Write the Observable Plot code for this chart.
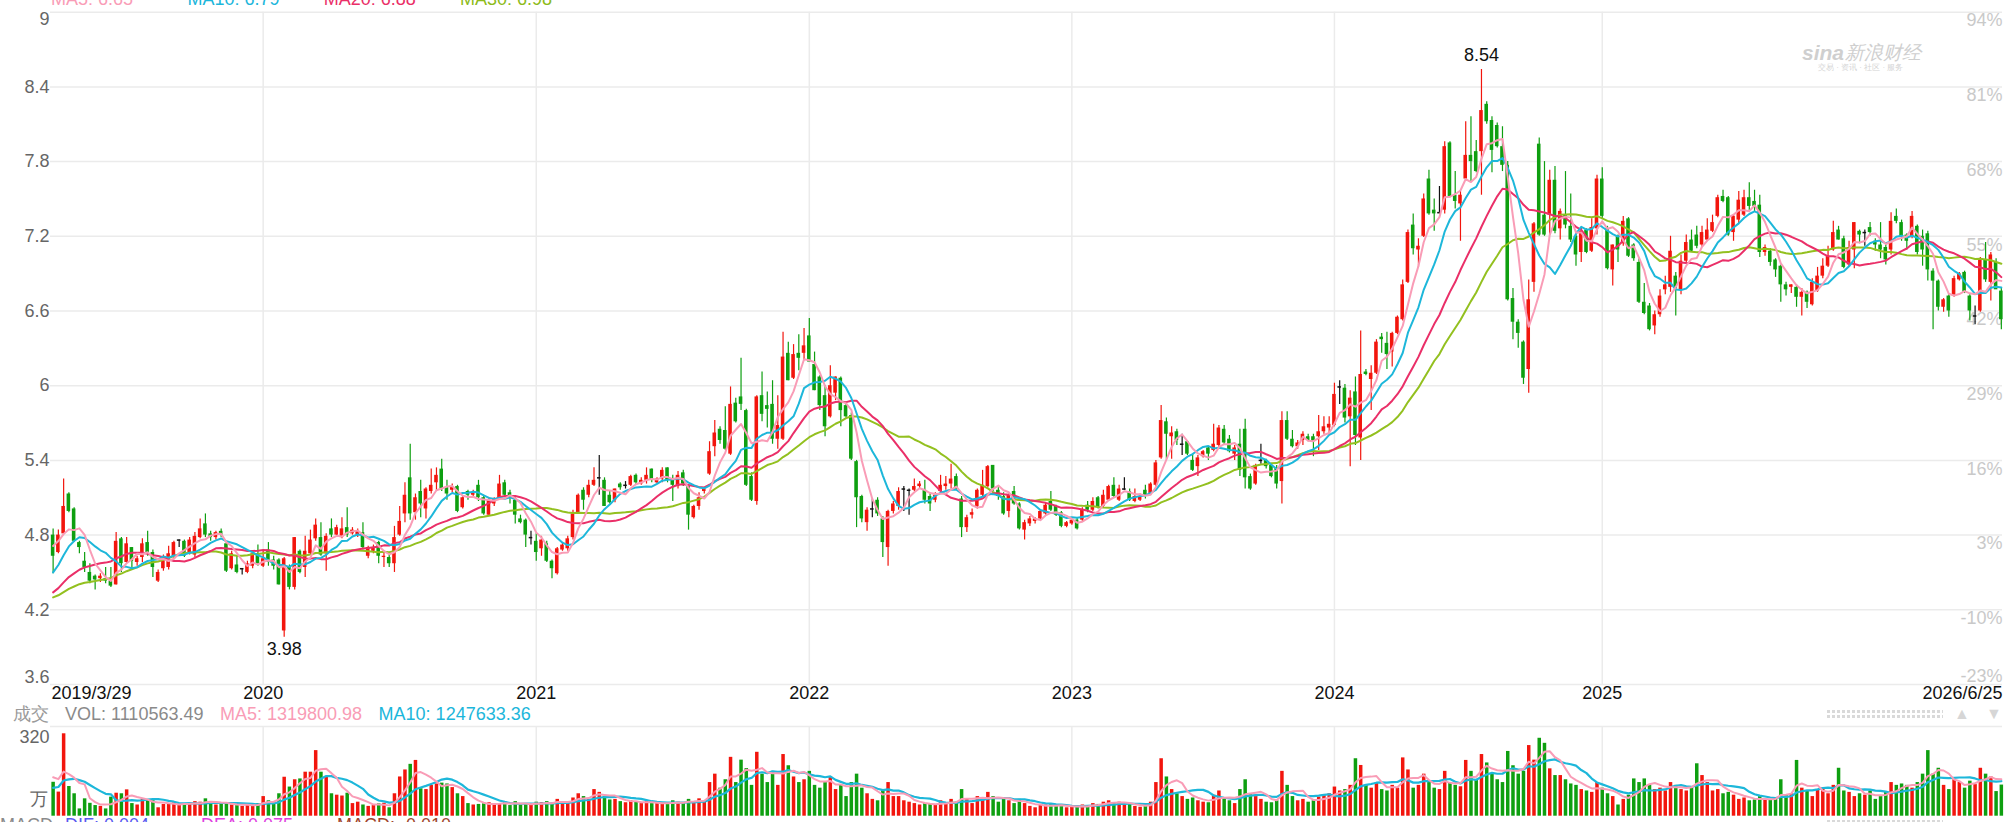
<!DOCTYPE html>
<html>
<head>
<meta charset="utf-8">
<script src="https://cdn.jsdelivr.net/npm/d3@7"></script>
<script src="https://cdn.jsdelivr.net/npm/@observablehq/plot@0.6"></script>
<style>
  html, body { margin: 0; padding: 0; background: #fff; overflow: hidden; }
  #chart { position: relative; width: 2013px; height: 822px; font-family: "Liberation Sans", Arial, Helvetica, sans-serif; }
  #chart svg { position: absolute; left: 0; }
  .lg { position: absolute; white-space: nowrap; font-size: 18px; line-height: 18px; }
  .dots { position: absolute; height: 3px; background: repeating-linear-gradient(90deg, #d9d9d9 0 3px, transparent 3px 5px); }
</style>
</head>
<body>
<div id="chart"></div>
<script>
// Weekly candles, 2019/3/29 – 2026/6/25 (prices in CNY, volume in 万 shares)
const open = [
4.80,4.66,4.81,5.13,5.01,4.74,4.59,4.50,4.47,4.45,
4.45,4.43,4.40,4.77,4.58,4.70,4.58,4.62,4.74,4.66,
4.43,4.53,4.54,4.63,4.76,4.75,4.66,4.64,4.78,4.89,
4.81,4.78,4.83,4.73,4.53,4.56,4.53,4.50,4.55,4.65,
4.55,4.68,4.60,4.60,4.03,4.54,4.38,4.67,4.54,4.65,
4.77,4.78,4.65,4.85,4.80,4.78,4.86,4.81,4.80,4.82,
4.63,4.67,4.74,4.62,4.62,4.57,4.80,4.97,5.26,4.98,
5.15,5.01,5.15,5.22,5.33,5.18,5.16,5.19,5.02,5.15,
5.12,5.20,5.10,4.96,5.05,5.09,5.22,5.14,5.08,4.93,
4.92,4.78,4.75,4.69,4.73,4.59,4.49,4.68,4.69,4.78,
4.98,5.16,5.12,5.20,5.26,5.24,5.12,5.08,5.21,5.20,
5.20,5.28,5.21,5.24,5.33,5.22,5.25,5.34,5.25,5.19,
5.30,5.19,4.94,5.03,5.15,5.29,5.51,5.65,5.64,5.45,
5.86,5.91,5.80,5.27,5.07,5.92,5.84,5.85,5.57,5.57,
6.26,6.06,6.26,6.26,6.40,6.17,6.07,5.92,5.75,5.94,
6.06,5.84,5.76,5.39,5.11,4.90,5.01,5.08,4.93,4.70,
4.99,5.03,5.17,5.16,5.16,5.19,5.16,5.11,5.08,5.15,
5.19,5.21,5.27,5.09,4.86,4.96,5.03,5.12,5.19,5.36,
5.16,5.11,4.99,5.15,5.05,4.84,4.89,4.91,4.93,4.97,
5.07,5.03,4.98,4.87,4.89,4.92,4.92,5.04,5.00,5.10,
5.03,5.08,5.20,5.08,5.17,5.15,5.07,5.08,5.16,5.13,
5.20,5.42,5.71,5.59,5.63,5.53,5.55,5.40,5.35,5.43,
5.50,5.48,5.52,5.65,5.57,5.45,5.53,5.65,5.27,5.21,
5.40,5.40,5.36,5.34,5.23,5.72,5.57,5.51,5.56,5.59,
5.59,5.59,5.63,5.66,5.68,5.99,5.98,5.75,5.95,5.58,
6.11,6.05,6.10,6.39,6.34,6.27,6.42,6.53,6.83,7.29,
7.09,7.20,7.66,7.41,7.39,7.41,7.95,7.53,7.46,7.66,
7.85,7.88,7.88,8.26,8.13,8.09,7.92,7.77,6.70,6.51,
6.35,6.13,6.83,7.94,7.37,7.37,7.65,7.26,7.37,7.28,
7.20,7.07,7.25,7.08,7.26,7.66,7.26,6.93,7.20,7.14,
7.34,7.13,6.99,6.67,6.64,6.48,6.57,6.77,6.79,6.88,
6.77,7.00,7.17,7.21,7.13,7.17,7.24,7.36,7.52,7.51,
7.23,7.33,7.37,7.51,7.48,7.45,7.07,7.08,7.01,6.96,
6.81,6.79,6.79,6.71,6.75,6.65,6.76,6.88,6.96,7.09,
7.25,7.18,6.97,7.09,7.24,7.23,7.27,7.16,7.13,7.11,
7.09,7.36,7.31,7.21,7.19,7.28,7.20,7.22,6.92,6.84,
6.63,6.72,6.72,6.85,6.91,6.72,6.56,6.60,7.01,6.83,
6.99,6.76];

const high = [
4.85,4.84,5.25,5.14,5.02,4.75,4.66,4.57,4.48,4.49,
4.54,4.54,4.82,4.78,4.78,4.70,4.63,4.77,4.83,4.68,
4.52,4.64,4.71,4.75,4.76,4.76,4.78,4.82,4.93,4.97,
4.83,4.83,4.85,4.74,4.67,4.63,4.53,4.59,4.67,4.72,
4.67,4.74,4.63,4.61,4.62,4.56,4.78,4.68,4.79,4.84,
4.93,4.90,4.81,4.93,4.88,4.94,5.02,4.86,4.85,4.90,
4.71,4.72,4.75,4.66,4.64,4.87,5.03,5.22,5.53,5.13,
5.24,5.18,5.33,5.34,5.41,5.24,5.21,5.20,5.11,5.16,
5.16,5.24,5.12,5.10,5.10,5.28,5.24,5.16,5.10,4.96,
4.93,4.83,4.81,4.79,4.75,4.60,4.70,4.74,4.79,5.00,
5.13,5.18,5.24,5.34,5.44,5.26,5.15,5.17,5.22,5.23,
5.28,5.29,5.26,5.34,5.33,5.26,5.34,5.34,5.28,5.31,
5.32,5.20,5.04,5.14,5.18,5.55,5.72,5.67,5.83,5.99,
5.90,6.22,5.81,5.30,5.92,6.11,5.95,6.04,5.92,6.43,
6.35,6.33,6.41,6.46,6.54,6.27,6.08,6.00,6.16,6.07,
6.07,5.85,5.78,5.40,5.12,5.02,5.09,5.10,4.95,5.00,
5.07,5.18,5.19,5.17,5.25,5.23,5.24,5.14,5.14,5.28,
5.27,5.37,5.29,5.11,4.96,5.01,5.17,5.32,5.36,5.36,
5.18,5.14,5.13,5.19,5.06,4.92,4.95,4.94,5.00,5.06,
5.15,5.04,4.99,4.91,4.94,4.94,5.02,5.07,5.10,5.11,
5.16,5.20,5.26,5.20,5.26,5.17,5.17,5.13,5.20,5.22,
5.40,5.84,5.74,5.67,5.65,5.61,5.56,5.45,5.44,5.48,
5.51,5.69,5.68,5.68,5.60,5.52,5.65,5.73,5.29,5.37,
5.53,5.41,5.37,5.36,5.79,5.79,5.64,5.56,5.63,5.61,
5.61,5.76,5.75,5.75,6.02,6.04,6.01,5.96,6.07,6.44,
6.13,6.16,6.37,6.42,6.43,6.43,6.56,6.85,7.25,7.38,
7.18,7.54,7.73,7.50,7.60,7.96,7.96,7.72,7.56,8.12,
8.16,7.97,8.54,8.28,8.16,8.11,8.08,7.80,6.78,6.53,
6.36,6.85,7.31,7.99,7.80,7.73,7.76,7.42,7.72,7.54,
7.24,7.27,7.26,7.34,7.69,7.75,7.28,7.13,7.21,7.36,
7.35,7.14,7.02,6.82,6.66,6.60,6.77,6.88,7.20,6.91,
7.05,7.21,7.25,7.28,7.28,7.34,7.37,7.53,7.57,7.52,
7.37,7.56,7.57,7.63,7.57,7.53,7.13,7.10,7.02,6.97,
6.83,6.81,6.81,6.78,6.76,6.86,6.95,7.02,7.12,7.32,
7.28,7.20,7.16,7.31,7.25,7.25,7.31,7.18,7.31,7.13,
7.39,7.42,7.33,7.22,7.40,7.29,7.25,7.24,6.94,6.85,
6.70,6.73,6.88,6.91,6.92,6.73,6.64,7.03,7.15,7.07,
7.02,6.78];

const low = [
4.49,4.65,4.81,4.98,4.74,4.65,4.50,4.41,4.36,4.42,
4.41,4.38,4.40,4.50,4.57,4.52,4.55,4.58,4.63,4.46,
4.42,4.51,4.52,4.61,4.70,4.62,4.64,4.62,4.77,4.78,
4.75,4.76,4.78,4.50,4.52,4.49,4.48,4.49,4.53,4.55,
4.54,4.55,4.52,4.40,3.98,4.36,4.36,4.49,4.46,4.64,
4.75,4.63,4.51,4.78,4.78,4.77,4.78,4.80,4.78,4.68,
4.61,4.65,4.57,4.54,4.54,4.50,4.79,4.90,4.92,4.92,
4.94,4.93,5.13,5.15,5.15,5.08,5.14,4.98,5.01,5.08,
5.10,5.07,4.96,4.95,5.03,5.08,5.10,5.05,4.89,4.89,
4.70,4.72,4.59,4.63,4.58,4.45,4.48,4.67,4.67,4.76,
4.97,5.00,5.10,5.19,5.12,5.03,5.05,5.06,5.16,5.17,
5.19,5.20,5.20,5.21,5.22,5.21,5.22,5.22,5.07,5.17,
5.19,4.84,4.93,5.00,5.13,5.28,5.43,5.53,5.48,5.44,
5.70,5.80,5.19,5.07,5.04,5.71,5.66,5.53,5.49,5.56,
6.04,6.05,6.12,6.20,6.19,5.96,5.80,5.59,5.74,5.88,
5.67,5.74,5.40,4.86,4.90,4.83,4.94,4.95,4.62,4.55,
4.97,5.00,4.99,4.96,5.15,5.17,5.05,4.99,5.06,5.14,
5.16,5.17,5.16,4.78,4.82,4.93,5.01,5.11,5.18,5.15,
5.08,4.96,4.94,5.04,4.84,4.76,4.87,4.89,4.92,4.96,
4.99,4.95,4.86,4.86,4.88,4.84,4.91,4.98,4.99,5.01,
5.02,5.07,5.10,5.07,5.16,5.07,5.06,5.07,5.09,5.12,
5.19,5.41,5.41,5.41,5.52,5.44,5.44,5.31,5.27,5.42,
5.40,5.47,5.50,5.52,5.46,5.40,5.27,5.17,5.16,5.20,
5.37,5.33,5.26,5.17,5.05,5.56,5.50,5.49,5.52,5.55,
5.43,5.48,5.61,5.60,5.67,5.85,5.70,5.35,5.52,5.40,
6.08,5.80,6.09,6.26,6.13,6.15,6.41,6.52,6.82,7.05,
6.95,7.19,7.37,7.24,7.38,7.38,7.51,7.42,7.16,7.65,
7.64,7.71,7.53,8.10,7.71,7.91,7.72,6.68,6.37,6.30,
6.01,5.94,6.75,7.20,7.20,7.21,7.22,7.17,7.26,7.15,
6.96,6.99,7.06,7.07,7.21,7.34,6.93,6.80,6.99,7.12,
7.03,7.00,6.66,6.57,6.44,6.41,6.55,6.73,6.75,6.56,
6.73,6.98,7.07,7.10,7.11,7.16,7.23,7.35,7.47,7.20,
7.16,7.30,7.36,7.40,7.40,7.03,7.04,6.96,6.87,6.67,
6.72,6.74,6.63,6.56,6.62,6.64,6.75,6.86,6.95,7.08,
7.17,6.94,6.95,6.94,7.14,7.12,7.20,7.08,7.02,6.97,
7.05,7.30,7.16,7.09,7.18,7.05,6.96,6.84,6.45,6.60,
6.59,6.55,6.71,6.84,6.74,6.52,6.49,6.59,6.83,6.68,
6.78,6.45];

const close = [
4.63,4.80,5.03,4.99,4.75,4.70,4.54,4.43,4.44,4.47,
4.43,4.39,4.75,4.57,4.73,4.59,4.61,4.73,4.65,4.54,
4.50,4.62,4.65,4.74,4.76,4.63,4.76,4.79,4.85,4.80,
4.78,4.82,4.80,4.51,4.65,4.50,4.53,4.57,4.65,4.57,
4.61,4.58,4.55,4.40,4.61,4.38,4.78,4.50,4.67,4.76,
4.88,4.64,4.79,4.80,4.86,4.85,4.80,4.84,4.83,4.70,
4.70,4.70,4.63,4.63,4.57,4.78,4.91,5.12,4.97,5.10,
5.05,5.17,5.20,5.28,5.17,5.13,5.19,4.99,5.10,5.12,
5.14,5.10,4.97,5.08,5.09,5.21,5.12,5.10,4.96,4.90,
4.80,4.78,4.66,4.76,4.59,4.53,4.69,4.72,4.77,4.97,
5.12,5.08,5.20,5.24,5.26,5.03,5.06,5.17,5.18,5.20,
5.27,5.22,5.24,5.28,5.24,5.25,5.32,5.24,5.20,5.28,
5.21,4.96,5.03,5.10,5.17,5.47,5.62,5.56,5.49,5.85,
5.71,5.85,5.20,5.08,5.91,5.77,5.81,5.57,5.68,6.23,
6.04,6.25,6.22,6.32,6.19,5.96,5.84,5.67,6.00,6.07,
5.80,5.75,5.41,5.10,4.93,5.00,5.01,4.97,4.74,4.99,
5.05,5.15,5.17,5.16,5.19,5.21,5.08,5.05,5.12,5.20,
5.21,5.25,5.17,4.86,4.94,4.98,5.16,5.20,5.35,5.17,
5.11,4.97,5.12,5.05,4.85,4.90,4.93,4.93,4.99,5.04,
5.00,4.96,4.87,4.90,4.92,4.85,5.00,5.00,5.07,5.02,
5.12,5.19,5.11,5.17,5.17,5.08,5.11,5.11,5.11,5.21,
5.38,5.72,5.61,5.62,5.56,5.53,5.45,5.32,5.42,5.47,
5.45,5.53,5.66,5.54,5.47,5.50,5.32,5.26,5.17,5.36,
5.40,5.35,5.27,5.21,5.72,5.57,5.51,5.54,5.61,5.56,
5.55,5.63,5.67,5.69,5.93,5.99,5.74,5.90,5.60,6.09,
6.09,6.10,6.35,6.37,6.25,6.42,6.55,6.81,7.23,7.10,
7.12,7.50,7.38,7.38,7.39,7.92,7.52,7.48,7.53,7.85,
7.80,7.72,8.21,8.12,7.89,7.92,7.77,6.69,6.51,6.42,
6.06,6.69,7.30,7.21,7.21,7.65,7.24,7.40,7.29,7.17,
7.05,7.24,7.07,7.27,7.66,7.36,6.94,7.13,7.09,7.32,
7.04,7.02,6.67,6.58,6.45,6.57,6.72,6.81,7.08,6.78,
7.00,7.15,7.08,7.12,7.23,7.25,7.31,7.51,7.48,7.21,
7.36,7.49,7.51,7.44,7.44,7.07,7.11,6.99,6.93,6.81,
6.77,6.81,6.71,6.75,6.67,6.83,6.88,6.96,7.04,7.23,
7.17,6.95,7.11,7.31,7.21,7.23,7.23,7.13,7.09,7.01,
7.32,7.32,7.19,7.16,7.36,7.07,7.09,6.93,6.84,6.63,
6.69,6.60,6.86,6.90,6.75,6.60,6.56,7.01,6.85,7.05,
6.77,6.53];

const volume = [
121,86,294,106,80,26,62,46,38,35,
26,68,82,80,94,45,40,60,58,55,
30,42,45,48,42,40,45,52,50,62,
50,40,42,48,40,38,35,42,40,45,
70,55,48,80,139,104,130,133,157,157,
234,157,140,80,75,72,82,45,50,40,
35,38,44,46,30,80,140,165,185,199,
98,95,110,115,118,115,102,80,70,45,
40,42,44,48,45,45,50,38,52,40,
45,40,50,48,52,42,60,52,48,65,
80,70,60,95,85,70,58,60,52,48,
55,50,45,52,45,48,42,46,55,50,
48,60,50,62,55,120,150,100,130,210,
120,200,170,110,228,150,120,160,110,220,
180,140,120,130,160,110,100,120,140,95,
110,70,120,150,100,80,60,55,90,120,
70,70,55,50,45,40,45,42,40,55,
45,60,50,95,60,45,70,60,85,70,
50,60,55,45,60,45,35,30,38,40,
42,35,40,30,32,35,40,38,45,42,
50,55,48,50,40,42,35,32,38,50,
120,205,140,95,80,70,60,65,55,50,
48,75,90,65,55,45,95,130,80,70,
60,50,48,55,160,110,70,55,60,50,
55,68,75,80,104,90,95,110,205,181,
110,100,120,95,90,110,100,208,165,100,
110,150,120,100,95,160,120,110,105,199,
160,130,220,190,150,130,120,231,180,150,
160,252,200,278,260,169,145,145,130,115,
110,95,90,85,120,100,80,70,40,60,
75,133,120,133,110,95,100,90,120,110,
95,90,100,187,145,120,90,95,80,85,
75,60,65,55,58,70,60,58,60,130,
75,80,199,100,90,70,95,100,80,110,
171,90,85,70,80,75,90,60,70,85,
120,110,115,110,100,120,150,234,150,171,
110,95,130,120,100,125,112.73287,171,150,140,
87.844141,111.056349];

// Weeks before the first candle, used only to seed the moving averages
const closeBefore = [4.30,4.25,4.22,4.18,4.15,4.20,4.24,4.22,4.20,4.24,
  4.12,4.10,4.14,4.16,4.12,4.15,4.20,4.22,4.26,4.33,
  4.20,4.25,4.28,4.31,4.40,4.60,4.75,4.80,4.78];
const volumeBefore = [55,60,65,62,73,120,160,150,144];

// Axis ticks and labels
const priceTicks = [3.6, 4.2, 4.8, 5.4, 6, 6.6, 7.2, 7.8, 8.4, 9];
const dateTickIndex = [0, 40, 92, 144, 194, 244, 295, 371];
const dateTickLabel = ["2019/3/29", "2020", "2021", "2022", "2023", "2024", "2025", "2026/6/25"];
const volumeMax = 320;
const maLegend = ["MA5: 6.65", "MA10: 6.79", "MA20: 6.88", "MA30: 6.98"];
const macdLegend = ["MACD", "DIF: 0.004", "DEA: 0.075", "MACD: -0.010"];

const FONT = '"Liberation Sans", Arial, Helvetica, sans-serif';
const RED = "#f2150d", GREEN = "#0e9f10", DOJI = "#111111", GRID = "#ebebeb";
const C5 = "#f99cb6", C10 = "#1db7da", C20 = "#ea2f68", C30 = "#93c01f";

const N = close.length;
const bars = d3.range(N).map(i => ({i, o: open[i], h: high[i], l: low[i], c: close[i], v: volume[i]}));
const candleColor = d => d.c > d.o ? RED : d.c < d.o ? GREEN : DOJI;
const volColor = d => d.c >= d.o ? RED : GREEN;

function movingAverage(series, before, n) {
  const all = before.concat(series), k = before.length;
  return series.map((_, i) => ({i, v: d3.mean(all.slice(k + i - n + 1, k + i + 1))}));
}
const ma5 = movingAverage(close, closeBefore, 5);
const ma10 = movingAverage(close, closeBefore, 10);
const ma20 = movingAverage(close, closeBefore, 20);
const ma30 = movingAverage(close, closeBefore, 30);
const vma5 = movingAverage(volume, volumeBefore, 5);
const vma10 = movingAverage(volume, volumeBefore, 10);

const dateTicks = dateTickIndex.map((i, k) => ({i, label: dateTickLabel[k]}));
const yearLines = dateTickIndex.slice(1, -1);
const pct = t => Math.floor((t / close[0] - 1) * 100 + 1e-9) + "%";
const fmtPrice = t => String(+t.toFixed(1));

const xOpt = {type: "linear", domain: [-0.5, N - 1 + 0.22], axis: null};
const common = {width: 2013, marginLeft: 50, marginRight: 11, x: xOpt,
  style: {background: "transparent", fontFamily: FONT, fontSize: "18px", overflow: "visible"}};

const hi = d3.greatest(bars, d => d.h);
const lo = d3.least(bars, d => d.l);

const pricePlot = Plot.plot({
  ...common,
  height: 722, marginTop: 11.7, marginBottom: 38,
  y: {domain: [3.6, 9], axis: null},
  marks: [
    Plot.ruleY(priceTicks, {stroke: GRID, strokeWidth: 1.5}),
    Plot.ruleX(yearLines, {stroke: GRID, strokeWidth: 1.5}),
    // left price labels (extremes nudged inside the frame)
    Plot.text(priceTicks.filter(t => t > 3.6 && t < 9), {y: d => d, frameAnchor: "left", textAnchor: "end", dx: -1, text: fmtPrice, fill: "#666"}),
    Plot.text([9], {y: d => d, frameAnchor: "left", textAnchor: "end", dx: -1, dy: 7, text: fmtPrice, fill: "#666"}),
    Plot.text([3.6], {y: d => d, frameAnchor: "left", textAnchor: "end", dx: -1, dy: -7, text: fmtPrice, fill: "#666"}),
    // right percentage labels relative to the first close
    Plot.text(priceTicks.filter(t => t > 3.6), {y: d => d, frameAnchor: "right", textAnchor: "end", dy: 8.5, text: pct, fill: "#c9c9c9"}),
    Plot.text([3.6], {y: d => d, frameAnchor: "right", textAnchor: "end", dy: -8.5, text: pct, fill: "#c9c9c9"}),
    // date labels
    Plot.text(dateTicks.slice(1, -1), {x: "i", frameAnchor: "bottom", dy: 14, text: "label", fill: "#111"}),
    Plot.text(dateTicks.slice(0, 1), {x: "i", frameAnchor: "bottom", dy: 14, dx: -1.6, textAnchor: "start", text: "label", fill: "#111"}),
    Plot.text(dateTicks.slice(-1), {x: "i", frameAnchor: "bottom", dy: 14, dx: 1.2, textAnchor: "end", text: "label", fill: "#111"}),
    // candles
    Plot.ruleX(bars, {x: "i", y1: "l", y2: "h", stroke: candleColor, strokeWidth: 1.2}),
    Plot.rect(bars.filter(d => d.o !== d.c), {x1: d => d.i - 0.34, x2: d => d.i + 0.34, y1: "o", y2: "c", fill: candleColor}),
    Plot.ruleY(bars.filter(d => d.o === d.c), {x1: d => d.i - 0.34, x2: d => d.i + 0.34, y: "c", stroke: DOJI, strokeWidth: 1.5}),
    // moving averages
    Plot.line(ma30, {x: "i", y: "v", stroke: C30, strokeWidth: 2}),
    Plot.line(ma20, {x: "i", y: "v", stroke: C20, strokeWidth: 2}),
    Plot.line(ma10, {x: "i", y: "v", stroke: C10, strokeWidth: 2}),
    Plot.line(ma5, {x: "i", y: "v", stroke: C5, strokeWidth: 2}),
    // extremes
    Plot.text([hi], {x: "i", y: "h", text: d => d.h.toFixed(2), dy: -14, fill: "#111"}),
    Plot.text([lo], {x: "i", y: "l", text: d => d.l.toFixed(2), dy: 12, fill: "#111"})
  ]
});
pricePlot.style.top = "0px";

const volumePlot = Plot.plot({
  ...common,
  height: 117, marginTop: 21, marginBottom: 6.3,
  y: {domain: [0, volumeMax], axis: null},
  marks: [
    Plot.ruleY([volumeMax], {stroke: GRID, strokeWidth: 1.5}),
    Plot.ruleX(yearLines, {stroke: GRID, strokeWidth: 1.5}),
    Plot.ruleX(bars, {x: "i", y1: 0, y2: "v", stroke: volColor, strokeWidth: 3.5}),
    Plot.line(vma10, {x: "i", y: "v", stroke: C10, strokeWidth: 2.2}),
    Plot.line(vma5, {x: "i", y: "v", stroke: C5, strokeWidth: 2}),
    Plot.text([volumeMax], {y: d => d, frameAnchor: "left", textAnchor: "end", dx: -1, dy: 11, text: d => String(d), fill: "#666"}),
    Plot.text(["万"], {frameAnchor: "bottom-left", textAnchor: "end", dx: -3, dy: -11.5, text: d => d, fill: "#666"})
  ]
});
volumePlot.style.top = "705px";

const chart = document.getElementById("chart");
chart.append(pricePlot, volumePlot);

function label(text, left, top, color, extra) {
  const el = document.createElement("div");
  el.className = "lg";
  el.textContent = text;
  el.style.left = left + "px";
  el.style.top = top + "px";
  el.style.color = color;
  if (extra) Object.assign(el.style, extra);
  chart.append(el);
  return el;
}

// price moving-average legend (partly above the visible area)
[[51, C5], [187.5, "#1cb6db"], [323.7, C20], [460, "#8dbb1a"]].forEach(([x, c], k) => label(maLegend[k], x, -10.2, c));

// volume legend, computed from the last week
const last = N - 1;
const fmtVol = v => (v * 10000).toFixed(2);
label("成交", 13, 704.5, "#9a9a9a");
label("VOL: " + fmtVol(volume[last]), 65, 704.5, "#8a8a8a");
label("MA5: " + fmtVol(vma5[last].v), 220, 704.5, C5);
label("MA10: " + fmtVol(vma10[last].v), 378.6, 704.5, "#1cb6db");

// MACD legend along the bottom edge
label(macdLegend[0], 0, 816, "#8a8a8a");
label(macdLegend[1], 65, 816, "#5a5af0");
label(macdLegend[2], 201, 816, "#e040e0");
label(macdLegend[3], 337, 816, "#a0462e");

// watermark
label("sina", 1802, 42, "#cfcfcf", {fontWeight: "bold", fontStyle: "italic", fontSize: "21px", lineHeight: "21px"});
label("新浪财经", 1845, 43, "#cfcfcf", {fontSize: "19px", lineHeight: "19px", fontStyle: "italic"});
label("交易 · 资讯 · 社区 · 服务", 1818, 64, "#d4d4d4", {fontSize: "8px", lineHeight: "8px"});

// range slider controls
[710, 715, 820].forEach(t => {
  const d = document.createElement("div");
  d.className = "dots";
  d.style.left = "1827px"; d.style.top = t + "px"; d.style.width = "116px";
  chart.append(d);
});
label("▲", 1954, 705, "#d6d6d6", {fontSize: "16px"});
label("▼", 1986, 705, "#d6d6d6", {fontSize: "16px"});
</script>
</body>
</html>
